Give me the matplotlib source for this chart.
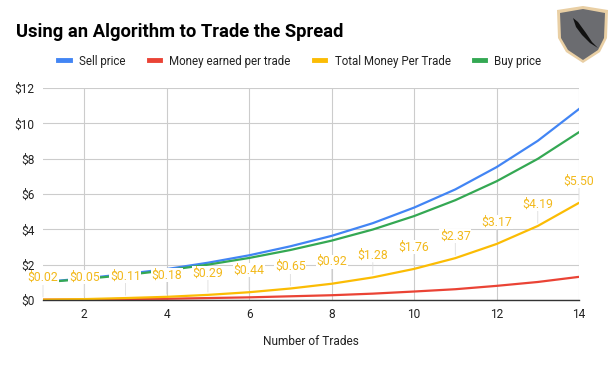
import matplotlib
matplotlib.use("Agg")
import matplotlib.pyplot as plt
from matplotlib.patches import Polygon
from matplotlib.lines import Line2D

trades = [1, 2, 3, 4, 5, 6, 7, 8, 9, 10, 11, 12, 13, 14]
sell_price = [1.02, 1.22, 1.47, 1.75, 2.11, 2.53, 3.04, 3.63, 4.35, 5.23, 6.26, 7.52, 9.01, 10.81]
money_earned = [0.02, 0.03, 0.06, 0.07, 0.11, 0.15, 0.21, 0.27, 0.36, 0.48, 0.61, 0.80, 1.02, 1.31]
total_money = [0.02, 0.05, 0.11, 0.18, 0.29, 0.44, 0.65, 0.92, 1.28, 1.76, 2.37, 3.17, 4.19, 5.50]
buy_price = [1.00, 1.19, 1.41, 1.68, 2.00, 2.38, 2.83, 3.36, 3.99, 4.75, 5.65, 6.72, 7.99, 9.50]
y_ticks = [0, 2, 4, 6, 8, 10, 12]
x_ticks = [2, 4, 6, 8, 10, 12, 14]

plt.rcParams['font.family'] = ['Roboto', 'DejaVu Sans']

W, H = 611, 377
fig = plt.figure(figsize=(W / 100, H / 100), dpi=100)
ax = fig.add_axes([43 / W, 1 - 300 / H, (579 - 43) / W, (300 - 88) / H])

BLUE, RED, YEL, GRN = '#4285F4', '#EA4335', '#FBBC04', '#34A853'

ax.plot(trades, sell_price, color=BLUE, lw=1.6, zorder=3)
ax.plot(trades, money_earned, color=RED, lw=1.6, zorder=3)
ax.plot(trades, total_money, color=YEL, lw=1.6, zorder=3)
ax.plot(trades, buy_price, color=GRN, lw=1.6, zorder=3)

for x, v in zip(trades, total_money):
    ax.annotate(f"${v:.2f}", (x, v), xytext=(0, 22), textcoords='offset pixels',
                ha='center', va='center', fontsize=8.8, color='#F2B91C', zorder=6,
                bbox=dict(boxstyle='square,pad=0.05', fc='white', ec='none'),
                arrowprops=dict(arrowstyle='-', color='#dddddd', lw=0.6,
                                shrinkA=0, shrinkB=2), annotation_clip=False)

ax.set_xlim(1, 14)
ax.set_ylim(0, 12)
ax.set_yticks(y_ticks)
ax.set_yticklabels([f"${t}" for t in y_ticks])
ax.set_xticks(x_ticks)
ax.grid(True, color='#cccccc', lw=0.8)
ax.set_axisbelow(True)
for s in ['left', 'right', 'top']:
    ax.spines[s].set_visible(False)
ax.spines['bottom'].set_color('#333333')
ax.spines['bottom'].set_linewidth(1.0)
ax.spines['bottom'].set_zorder(4)
ax.tick_params(length=0, labelsize=8.6, colors='#222222', pad=6)
ax.set_xlabel("Number of Trades", fontsize=8.6, color='#222222', labelpad=10)

fig.text(16 / W, 1 - 32 / H, "Using an Algorithm to Trade the Spread",
         fontsize=13.2, fontweight='bold', color='#000000', va='center', ha='left')

handles = [Line2D([], [], color=c, lw=3.5) for c in (BLUE, RED, YEL, GRN)]
fig.legend(handles, ["Sell price", "Money earned per trade", "Total Money Per Trade", "Buy price"],
           loc='center', bbox_to_anchor=(300 / W, 1 - 61 / H), ncol=4, frameon=False,
           fontsize=8.3, handlelength=1.0, handletextpad=0.8, columnspacing=2.0,
           labelcolor='#222222')

# logo (shield with feather)
def fp(pts):
    return [(x / W, 1 - y / H) for x, y in pts]

outer = [(557, 10), (583, 6), (608, 10), (607, 38), (600, 52), (583, 63), (566, 52), (558, 38)]
inner = [(560, 13), (583, 9), (605, 13), (604, 38), (598, 50), (583, 60), (568, 50), (561, 38)]
feather = [(573, 18), (578, 22), (586, 33), (592, 42), (598, 48), (590, 43), (582, 35), (576, 27)]
fig.patches.append(Polygon(fp(outer), closed=True, transform=fig.transFigure, fc='#e9cfa4', ec='none'))
fig.patches.append(Polygon(fp(inner), closed=True, transform=fig.transFigure, fc='#6b6c70', ec='none'))
fig.patches.append(Polygon(fp(feather), closed=True, transform=fig.transFigure, fc='#111111', ec='none'))

fig.savefig("out.png", dpi=100)
